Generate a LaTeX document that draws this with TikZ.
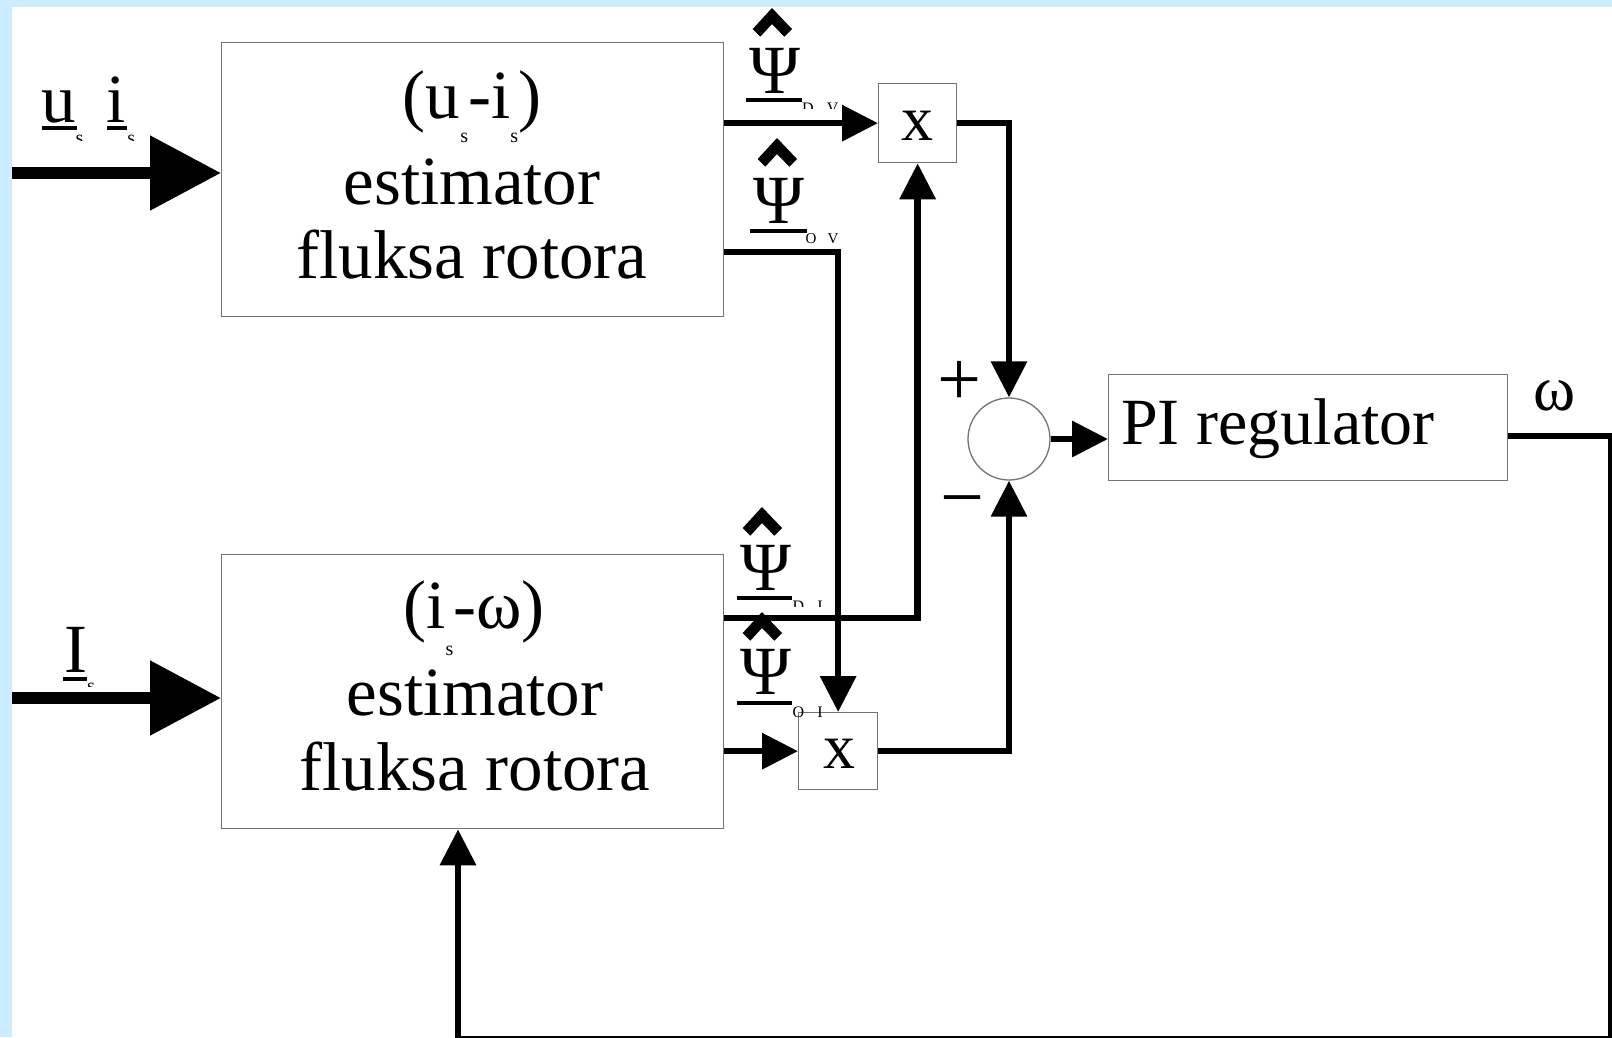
\documentclass[tikz,border=0pt]{standalone}
\usepackage{fontspec}
\setmainfont{Liberation Serif}
\usetikzlibrary{arrows.meta}
\definecolor{bgblue}{RGB}{204,236,255}
\newcommand\fsz[1]{\fontsize{#1}{#1}\selectfont}
\newcommand\subs[1]{\raisebox{#1}{\fsz{20}s}}
\tikzset{
  hatm/.pic={\fill (0,0)--(20,21)--(12.3,28.7)--(0,16)--(-11.7,28.7)--(-19.3,21)--cycle;},
  blk/.style={draw=black!55, line width=1.3pt, fill=white, inner sep=0pt},
  conn/.style={line width=6.5pt, -{Triangle[length=36pt,width=35pt]}},
  bigarrow/.style={line width=12pt, -{Triangle[length=71pt,width=72pt]}},
  txt/.style={inner sep=0pt, font=\fsz{69}},
  tinytxt/.style={inner sep=0pt, font=\fsz{16}},
  uline/.style={line width=4pt}
}
\begin{document}
\begin{tikzpicture}[x=1pt,y=-1pt]
\useasboundingbox (0,0) rectangle (1612,1037);
\fill[bgblue] (0,0) rectangle (1612,1037);
\fill[white] (12,7) rectangle (1612,1037);

% blocks
\node[blk, minimum width=502pt, minimum height=274pt, anchor=north west] (est1) at (221,42) {};
\node[blk, minimum width=502pt, minimum height=274pt, anchor=north west] (est2) at (221,554) {};
\node[blk, minimum width=78pt, minimum height=79pt, anchor=north west] (mul1) at (878,83) {};
\node[blk, minimum width=79pt, minimum height=77pt, anchor=north west] (mul2) at (798,712) {};
\node[blk, circle, minimum size=82pt] (sum) at (1009,439) {};
\node[blk, minimum width=399pt, minimum height=106pt, anchor=north west] (pi) at (1108,374) {};

% connectors
\coordinate (in1) at (12,173);
\coordinate (in2) at (12,698);
\draw[bigarrow] (in1) -- (in1 -| est1.west);
\draw[bigarrow] (in2) -- (in2 -| est2.west);
\draw[conn] (est1.east |- mul1.west) -- (mul1.west);
\draw[conn] (est1.east |- 0,252) -| (mul2.north);
\draw[conn] (est2.east |- 0,618) -| (mul1.south);
\draw[conn] (est2.east |- mul2.west) -- (mul2.west);
\draw[conn] (mul1.east) -| (sum.north);
\draw[conn] (mul2.east) -| (sum.south);
\draw[conn] (sum.east) -- (sum.east -| pi.west);
\coordinate (fbr) at (1611,436);
\coordinate (fbb) at (458,1039.5);
\draw[conn] (pi.east |- fbr) -- (fbr) |- (fbb) -- (fbb |- est2.south);

% block texts
\node[txt, anchor=base] (e1l1) at (472,118) {(u\subs{-24pt}-i\subs{-24pt})};
\node[txt, anchor=base] (e1l2) at (472,204) {estimator};
\node[txt, anchor=base] (e1l3) at (472,278) {fluksa rotora};
\node[txt, anchor=base] (e2l1) at (474,628) {(i\subs{-27pt}-ω)};
\node[txt, anchor=base] (e2l2) at (475,715) {estimator};
\node[txt, anchor=base] (e2l3) at (475,790) {fluksa rotora};
\node[txt, font=\fsz{66}, anchor=base west] (pitxt) at (1121,444) {PI regulator};
\node[txt, font=\fsz{64}, anchor=base] (x1) at (917,140) {x};
\node[txt, font=\fsz{64}, anchor=base] (x2) at (839,768) {x};
\node[txt, font=\fsz{64}, anchor=base] (om) at (1555,410) {ω};
\node[txt, font=\fsz{78}, anchor=base] (plus) at (959.5,405) {+};
\node[txt, font=\fsz{78}, anchor=base] (minus) at (962,523) {−};

% input labels (subscripts only partly visible, as in the reference)
\begin{scope}
\clip (20,40) rectangle (150,140.5);
\node[txt, anchor=base west] (lu) at (41,122) {u\subs{-22pt}};
\node[txt, anchor=base west] (li) at (106,122) {i\hspace{2pt}\subs{-22pt}};
\end{scope}
\draw[uline] (42,128) -- (77,128);
\draw[uline] (107,128) -- (127,128);
\begin{scope}
\clip (20,600) rectangle (150,686);
\node[txt, anchor=base west] (lI) at (64,672) {I\subs{-20pt}};
\end{scope}
\draw[uline] (63,679) -- (87,679);

% psi labels
\node[txt, anchor=base] (psi1) at (775,93) {Ψ};
\pic at (772,8) {hatm};
\draw[uline] (746,100) -- (802,100);
\node[txt, anchor=base] (psi2) at (779,223) {Ψ};
\pic at (777,138) {hatm};
\draw[uline] (750,231) -- (807,231);
\node[txt, anchor=base] (psi3) at (766,590) {Ψ};
\pic at (762,507) {hatm};
\draw[uline] (737,598) -- (792,598);
\node[txt, anchor=base] (psi4) at (766,694) {Ψ};
\pic at (762,612) {hatm};
\draw[uline] (737,703) -- (792,703);

\begin{scope}
\clip (795,95) rectangle (850,108.5);
\node[tinytxt, anchor=base west] (sdv) at (802,113) {D\hspace{13pt}V};
\end{scope}
\node[tinytxt, font=\fsz{15}, anchor=base west] (sov) at (805.5,243) {O\hspace{11pt}V};
\begin{scope}
\clip (785,595) rectangle (830,606);
\node[tinytxt, anchor=base west] (sdi) at (792.5,611) {D\hspace{13pt}I};
\end{scope}
\node[tinytxt, anchor=base west] (soi) at (792.5,717) {O\hspace{13pt}I};
\end{tikzpicture}
\end{document}
